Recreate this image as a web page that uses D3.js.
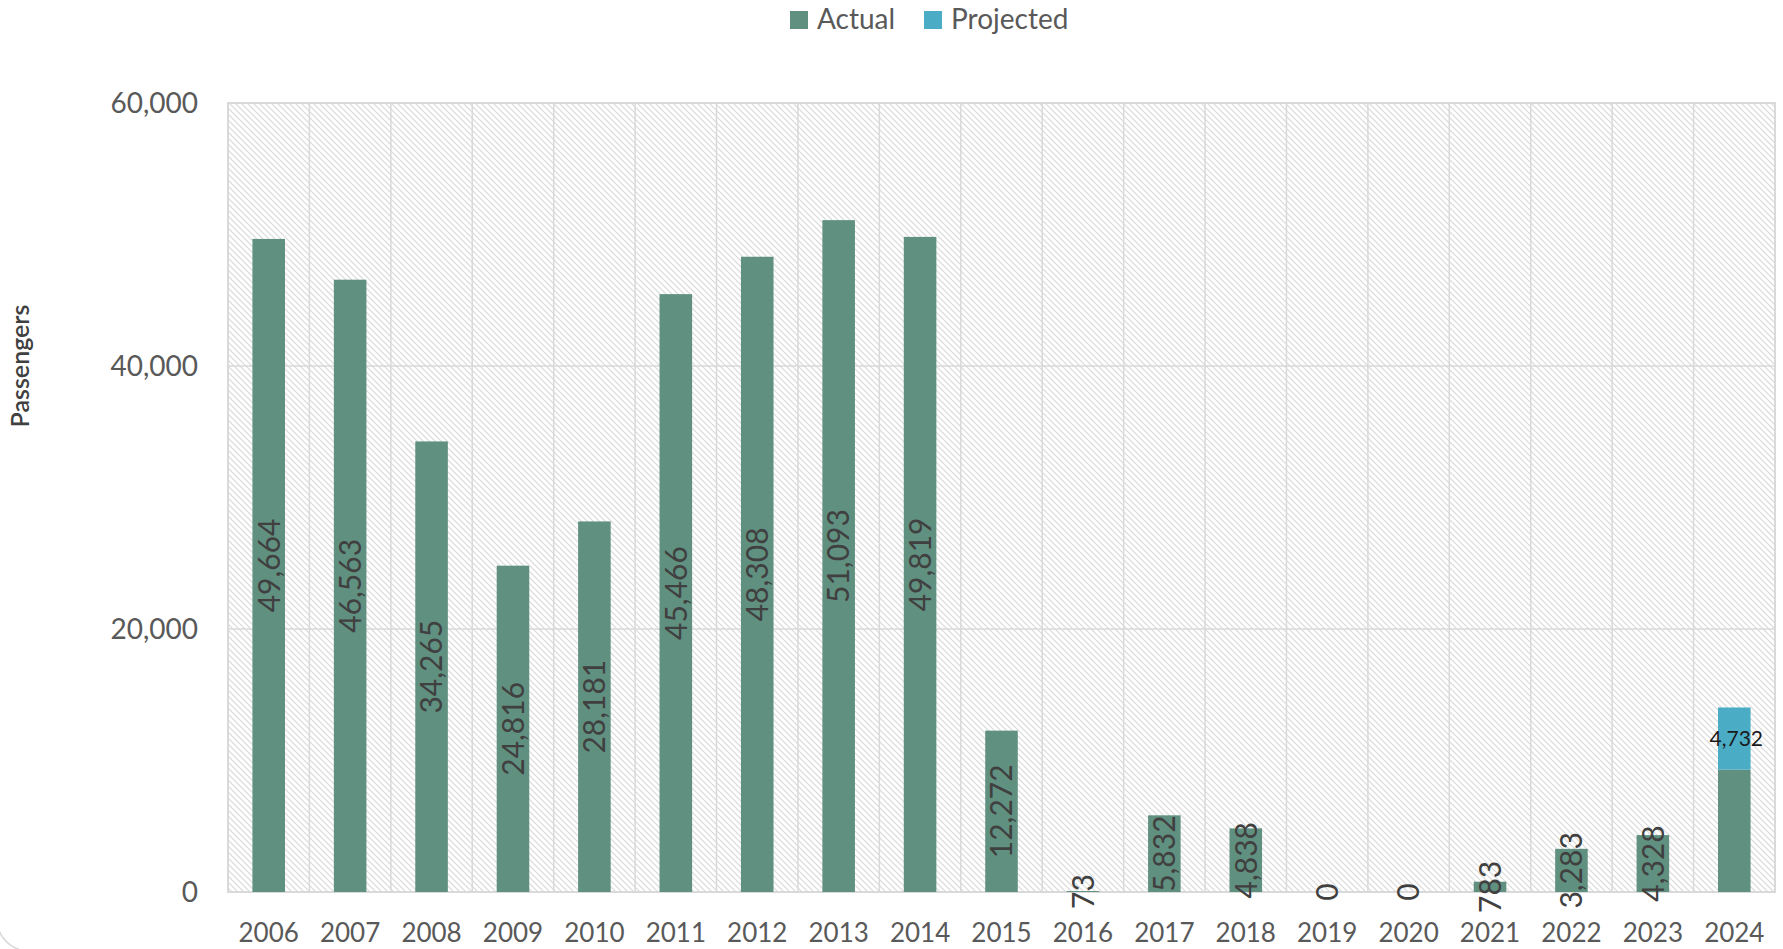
<!DOCTYPE html>
<html>
<head>
<meta charset="utf-8">
<script src="https://cdn.jsdelivr.net/npm/d3@7"></script>
<style>
  html, body { margin: 0; padding: 0; background: #fff; }
  svg { display: block; font-family: Lato, "Noto Sans", sans-serif; }
</style>
</head>
<body>
<div id="chart"></div>
<script>
const years = ["2006", "2007", "2008", "2009", "2010", "2011", "2012", "2013", "2014", "2015",
    "2016", "2017", "2018", "2019", "2020", "2021", "2022", "2023", "2024"];
const actual = [49664, 46563, 34265, 24816, 28181, 45466, 48308, 51093, 49819, 12272,
    73, 5832, 4838, 0, 0, 783, 3283, 4328, 9300];
// 2024 actual is not labelled in the source
const actualLabelled = years.map(y => y !== "2024");
const projected = [0, 0, 0, 0, 0, 0, 0, 0, 0, 0, 0, 0, 0, 0, 0, 0, 0, 0, 4732];
const yTicks = [0, 20000, 40000, 60000];

const width = 1783, height = 949;
const margin = {top: 103, right: 8, bottom: 57, left: 228};

const svg = d3.select("#chart").append("svg")
    .attr("width", width)
    .attr("height", height);

// pattern for plot area
const defs = svg.append("defs");
const pat = defs.append("pattern")
    .attr("id", "hatch")
    .attr("patternUnits", "userSpaceOnUse")
    .attr("width", 6)
    .attr("height", 6);
pat.append("rect").attr("width", 6).attr("height", 6).attr("fill", "#fff");
pat.append("path")
    .attr("d", "M0,0 L6,6 M-1,5 L1,7 M5,-1 L7,1")
    .attr("stroke", "#d9d9d9")
    .attr("stroke-width", 1.2);

// outer chart border (only the bottom-left corner shows)
svg.append("rect")
    .attr("x", -3).attr("y", -40)
    .attr("width", width + 40).attr("height", 991)
    .attr("rx", 32)
    .attr("fill", "none")
    .attr("stroke", "#d9d9d9")
    .attr("stroke-width", 1.5);

const x = d3.scaleBand()
    .domain(years)
    .range([margin.left, width - margin.right])
    .paddingInner(0.6)
    .paddingOuter(0.3);

const y = d3.scaleLinear()
    .domain([0, 60000])
    .range([height - margin.bottom, margin.top]);

const step = x.step();
const x0 = margin.left, x1 = width - margin.right;

// plot background
svg.append("rect")
    .attr("x", x0).attr("y", y(60000))
    .attr("width", x1 - x0).attr("height", y(0) - y(60000))
    .attr("fill", "url(#hatch)");

// horizontal gridlines
svg.append("g")
    .selectAll("line")
    .data(yTicks)
    .join("line")
    .attr("x1", x0).attr("x2", x1)
    .attr("y1", d => y(d)).attr("y2", d => y(d))
    .attr("stroke", "#d9d9d9")
    .attr("stroke-width", 1.5);

// vertical gridlines at category boundaries
svg.append("g")
    .selectAll("line")
    .data(d3.range(years.length + 1))
    .join("line")
    .attr("x1", i => x0 + i * (x1 - x0) / years.length)
    .attr("x2", i => x0 + i * (x1 - x0) / years.length)
    .attr("y1", y(0)).attr("y2", y(60000))
    .attr("stroke", "#d9d9d9")
    .attr("stroke-width", 1.5);

// plot border
svg.append("rect")
    .attr("x", x0).attr("y", y(60000))
    .attr("width", x1 - x0).attr("height", y(0) - y(60000))
    .attr("fill", "none")
    .attr("stroke", "#d9d9d9")
    .attr("stroke-width", 2);

// bars
svg.append("g")
    .selectAll("rect")
    .data(years)
    .join("rect")
    .attr("x", d => x(d))
    .attr("width", x.bandwidth())
    .attr("y", (d, i) => y(actual[i]))
    .attr("height", (d, i) => y(0) - y(actual[i]))
    .attr("fill", "#609180");

svg.append("g")
    .selectAll("rect")
    .data(years.filter((d, i) => projected[i] > 0))
    .join("rect")
    .attr("x", d => x(d))
    .attr("width", x.bandwidth())
    .attr("y", d => { const i = years.indexOf(d); return y(actual[i] + projected[i]); })
    .attr("height", d => { const i = years.indexOf(d); return y(actual[i]) - y(actual[i] + projected[i]); })
    .attr("fill", "#4bacc6");

// bar labels (rotated, centred in bar)
svg.append("g")
    .selectAll("text")
    .data(years.filter((d, i) => actualLabelled[i]))
    .join("text")
    .attr("transform", d => {
        const i = years.indexOf(d);
        const cx = x(d) + x.bandwidth() / 2;
        const cy = (y(0) + y(actual[i])) / 2;
        return `translate(${cx},${cy}) rotate(-90)`;
    })
    .attr("text-anchor", "middle")
    .attr("dy", "0.36em")
    .attr("fill", "#404040")
    .attr("font-size", 30)
    .text(d => d3.format(",")(actual[years.indexOf(d)]));

// projected label
svg.append("g")
    .selectAll("text")
    .data(years.filter((d, i) => projected[i] > 0))
    .join("text")
    .attr("x", d => x(d) + x.bandwidth() / 2 + 2)
    .attr("y", d => { const i = years.indexOf(d); return (y(actual[i]) + y(actual[i] + projected[i])) / 2; })
    .attr("text-anchor", "middle")
    .attr("dy", "0.36em")
    .attr("fill", "#1a1a1a")
    .attr("font-size", 21)
    .text(d => d3.format(",")(projected[years.indexOf(d)]));

// y axis labels
svg.append("g")
    .selectAll("text")
    .data(yTicks)
    .join("text")
    .attr("x", 198)
    .attr("y", d => y(d))
    .attr("dy", "0.36em")
    .attr("text-anchor", "end")
    .attr("fill", "#595959")
    .attr("font-size", 28)
    .text(d => d3.format(",")(d));

// x axis labels
svg.append("g")
    .selectAll("text")
    .data(years)
    .join("text")
    .attr("x", d => x0 + (years.indexOf(d) + 0.5) * step)
    .attr("y", 942)
    .attr("text-anchor", "middle")
    .attr("fill", "#595959")
    .attr("font-size", 26)
    .text(d => d);

// y axis title
svg.append("text")
    .attr("transform", "translate(20,366) rotate(-90)")
    .attr("text-anchor", "middle")
    .attr("dy", "0.36em")
    .attr("fill", "#404040")
    .attr("font-size", 25)
    .attr("font-weight", 600)
    .text("Passengers");

// legend
const legendItems = [
    {name: "Actual", color: "#609180", x: 790},
    {name: "Projected", color: "#4bacc6", x: 924}
];
const lg = svg.append("g")
    .selectAll("g")
    .data(legendItems)
    .join("g")
    .attr("transform", d => `translate(${d.x},0)`);
lg.append("rect")
    .attr("y", 11).attr("width", 18).attr("height", 18)
    .attr("fill", d => d.color);
lg.append("text")
    .attr("x", 27).attr("y", 29)
    .attr("fill", "#595959")
    .attr("font-size", 28)
    .text(d => d.name);
</script>
</body>
</html>
